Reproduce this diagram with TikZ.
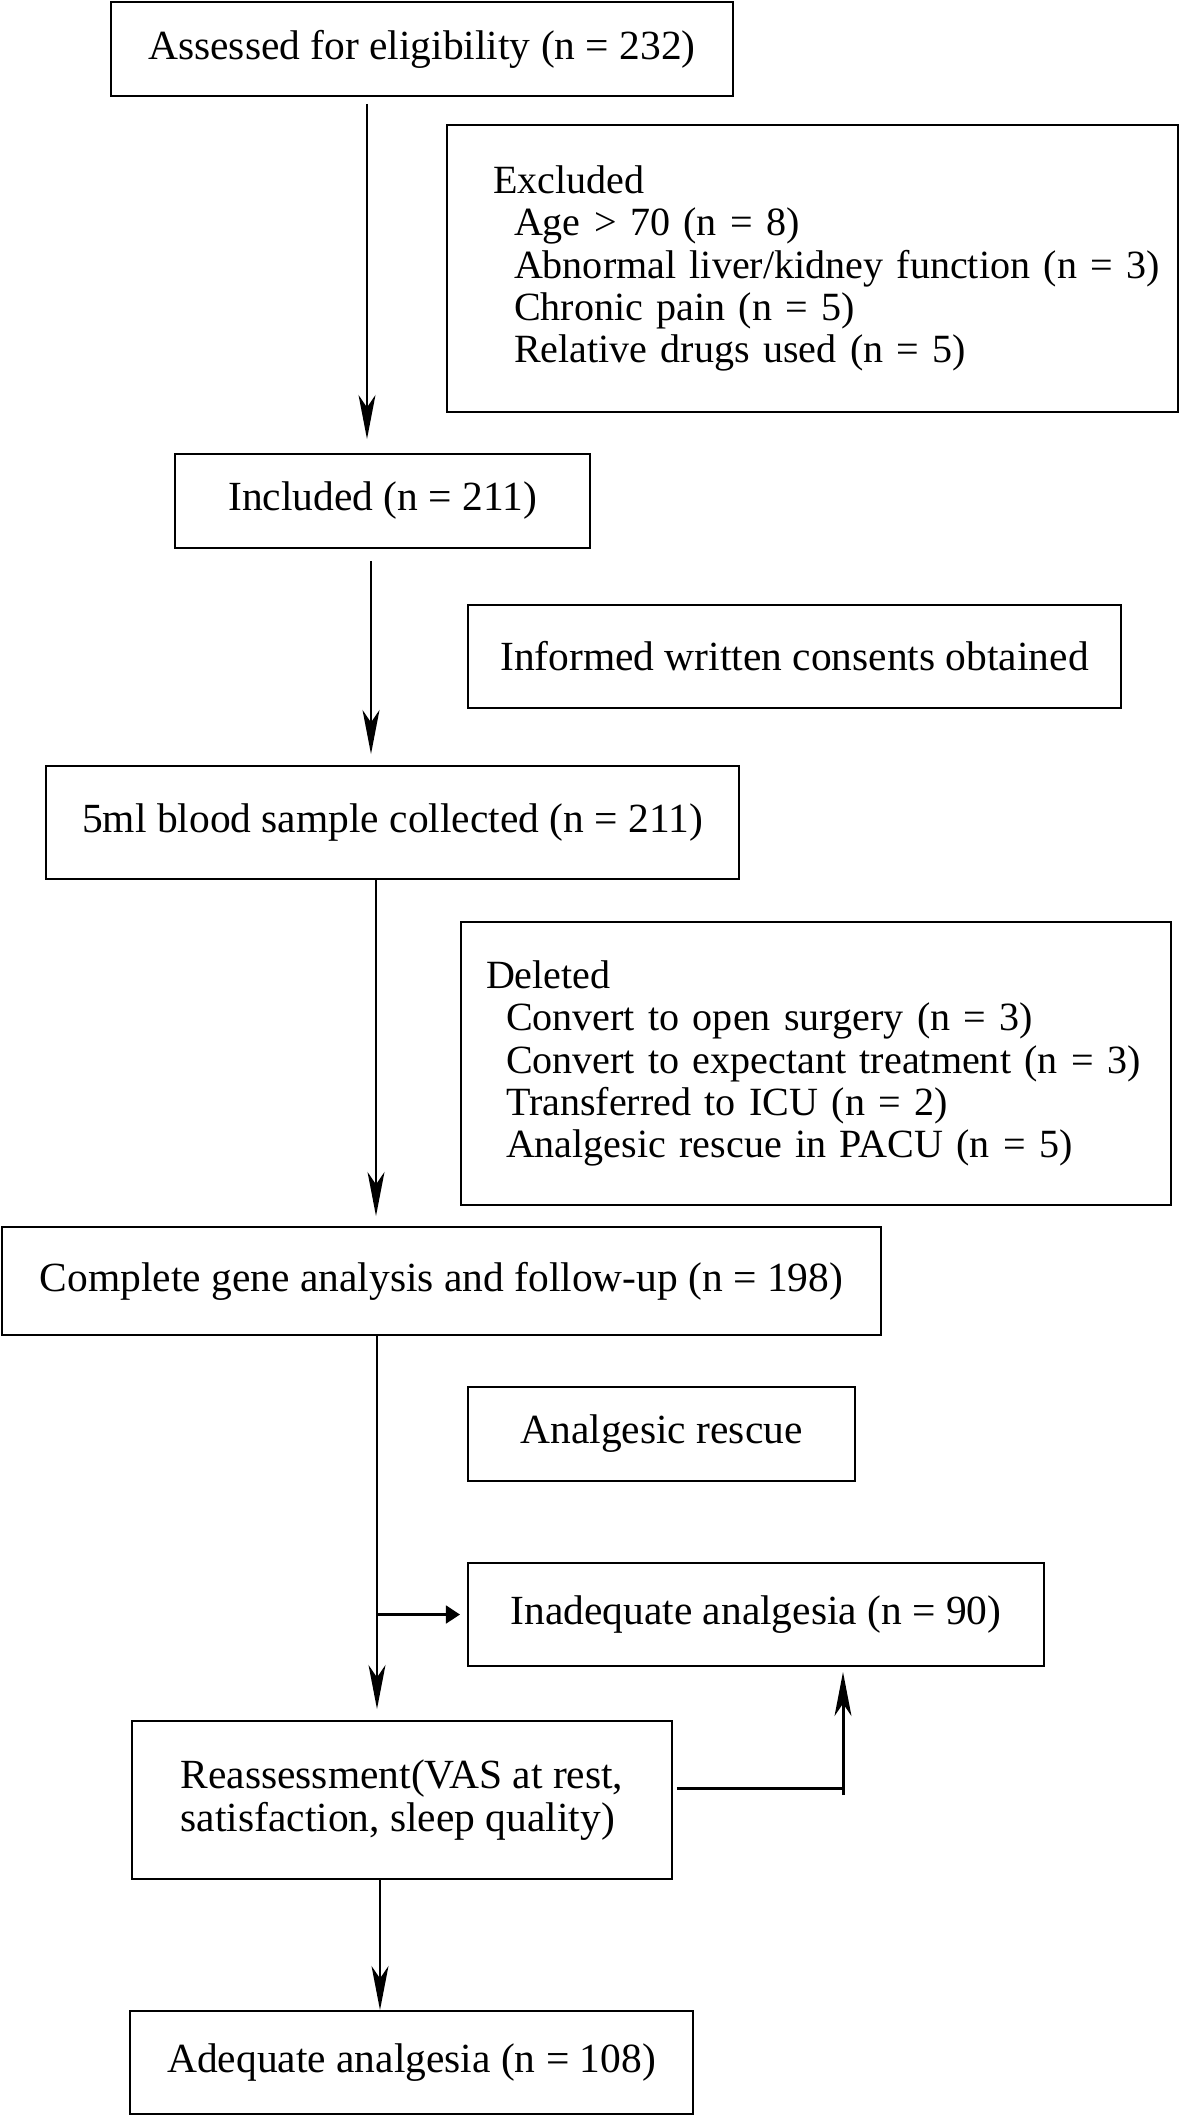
\documentclass[tikz,border=0pt]{standalone}
\usepackage{fontspec}
\setmainfont{Liberation Serif}
\usetikzlibrary{arrows.meta}

\begin{document}
\begin{tikzpicture}[->,>={Stealth[length=12.5pt,width=4.8pt,inset=3.5pt]},
  line width=0.85pt,font={\fontsize{11.8}{12}\selectfont}]

% Define block styles
\tikzstyle{block} = [rectangle, draw, line width=0.55pt, inner sep=0pt, align=center]
\tikzstyle{listbox} = [block, align=left, inner xsep=0.15cm, font={\fontsize{11.4}{12}\selectfont}]
\tikzstyle{small} = [-{Triangle[length=4pt,width=5pt]}]

\useasboundingbox (0,0) rectangle (11.81,-21.18);

% main column
\node[block, minimum width=6.22cm, minimum height=0.94cm] (assess)   at (4.22,-0.49)   {Assessed for eligibility (n = 232)};
\node[block, minimum width=4.15cm, minimum height=0.94cm] (incl)     at (3.825,-5.01)  {Included (n = 211)};
\node[block, minimum width=6.93cm, minimum height=1.13cm] (blood)    at (3.925,-8.225) {5ml blood sample collected (n = 211)};
\node[block, minimum width=8.79cm, minimum height=1.08cm] (complete) at (4.415,-12.81) {Complete gene analysis and follow-up (n = 198)};
\node[block, align=left, minimum width=5.40cm, minimum height=1.58cm] (reass) at (4.02,-18.00) {Reassessment(VAS at rest,\\satisfaction, sleep quality)};
\node[block, minimum width=5.63cm, minimum height=1.03cm] (adeq)     at (4.115,-20.625) {Adequate analgesia (n = 108)};

% side boxes
\node[listbox, text width=7.01cm, minimum height=2.87cm] (excl) at (8.125,-2.685)
  {\hspace*{0.31cm}\mbox{Excluded}\\
   \hspace*{0.52cm}\mbox{Age > 70 (n = 8)}\\
   \hspace*{0.52cm}\mbox{Abnormal liver/kidney function (n = 3)}\\
   \hspace*{0.52cm}\mbox{Chronic pain (n = 5)}\\
   \hspace*{0.52cm}\mbox{Relative drugs used (n = 5)}};
\node[block, minimum width=6.53cm, minimum height=1.03cm] (consent) at (7.945,-6.565) {Informed written consents obtained};
\node[listbox, text width=6.80cm, minimum height=2.83cm] (deleted) at (8.16,-10.635)
  {\hspace*{0.10cm}\mbox{Deleted}\\
   \hspace*{0.30cm}\mbox{Convert to open surgery (n = 3)}\\
   \hspace*{0.30cm}\mbox{Convert to expectant treatment (n = 3)}\\
   \hspace*{0.30cm}\mbox{Transferred to ICU (n = 2)}\\
   \hspace*{0.30cm}\mbox{Analgesic rescue in PACU (n = 5)}};
\node[block, minimum width=3.87cm, minimum height=0.94cm] (rescue) at (6.615,-14.34) {Analgesic rescue};
\node[block, minimum width=5.76cm, minimum height=1.03cm] (inad)   at (7.56,-16.145) {Inadequate analgesia (n = 90)};

\coordinate (s1) at (3.67,0);
\coordinate (s2) at (3.71,0);
\coordinate (s3) at (3.76,0);
\coordinate (s4) at (3.77,0);
\coordinate (s5) at (3.80,0);
\coordinate (turn) at (8.43,-17.88);

\path
  (assess.south -| s1)   edge[shorten <=0.07cm, shorten >=0.14cm] (incl.north -| s1)
  (incl.south -| s2)     edge[shorten <=0.12cm, shorten >=0.11cm] (blood.north -| s2)
  (blood.south -| s3)    edge[shorten >=0.10cm] (complete.north -| s3)
  (complete.south -| s4) edge[shorten >=0.11cm] (reass.north -| s4)
  (reass.south -| s5)    edge (adeq.north -| s5)
  (s4 |- inad.west)      edge[small, shorten >=0.07cm] (inad.west)
  ([yshift=-0.07cm]turn) edge[shorten >=0.05cm] (turn |- inad.south);
\draw[-, shorten <=0.04cm] (reass.east |- turn) -- (turn);

\end{tikzpicture}
\end{document}
